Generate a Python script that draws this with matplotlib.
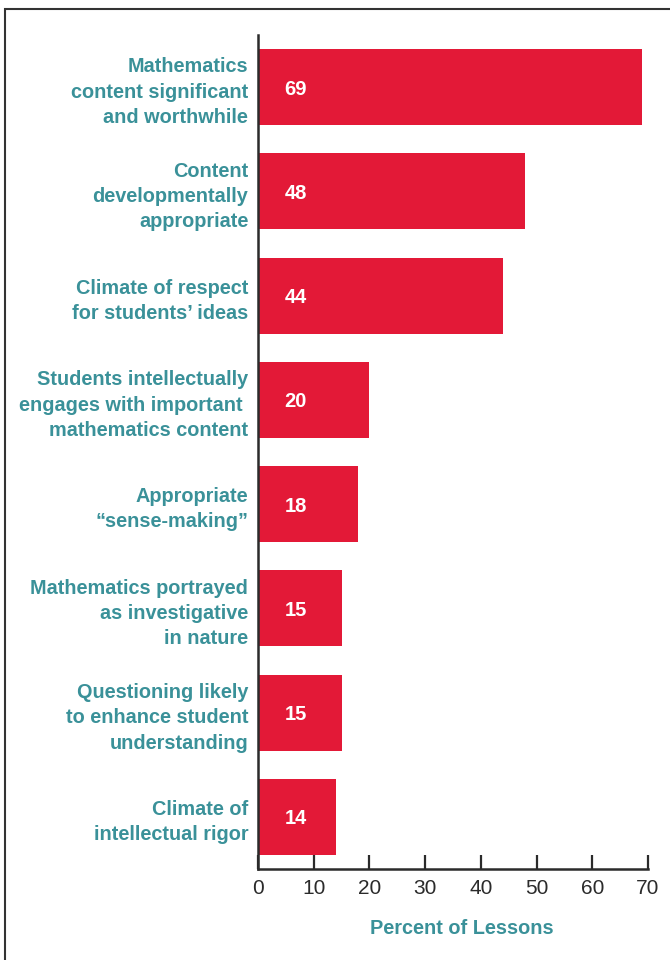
import matplotlib
matplotlib.use("Agg")
import matplotlib.pyplot as plt
from matplotlib.patches import Rectangle

categories = [
    "Mathematics\ncontent significant\nand worthwhile",
    "Content\ndevelopmentally\nappropriate",
    "Climate of respect\nfor students\u2019 ideas",
    "Students intellectually\nengages with important \nmathematics content",
    "Appropriate\n\u201csense-making\u201d",
    "Mathematics portrayed\nas investigative\nin nature",
    "Questioning likely\nto enhance student\nunderstanding",
    "Climate of\nintellectual rigor",
]
values = [69, 48, 44, 20, 18, 15, 15, 14]
xticks = [0, 10, 20, 30, 40, 50, 60, 70]
xlabel = "Percent of Lessons"

RED = "#E31937"
TEAL = "#3A9199"
DARK = "#2b2b2b"
FONT = ["Liberation Sans", "DejaVu Sans"]

fig = plt.figure(figsize=(6.7, 9.6), dpi=100)
fig.patches.append(Rectangle((5/670, -0.1), 1.2, 1 - 8.5/960 + 0.1,
                             transform=fig.transFigure, fill=False,
                             edgecolor="#333333", linewidth=1.5))

ax = fig.add_axes([258/670, 1 - 869/960, 390/670, 834/960])
pos = list(range(len(values)))
ax.barh(pos, values, height=0.73, color=RED)
ax.set_ylim(7.5, -0.5)
ax.set_xlim(0, 70)

for p, v in zip(pos, values):
    ax.annotate(str(v), (0, p), xytext=(19, -1.5), textcoords="offset points",
                ha="left", va="center", color="white", fontsize=14.5,
                fontweight="bold", family=FONT)

ax.set_yticks(pos)
ax.set_yticklabels(categories, fontsize=14.3, fontweight="bold", color=TEAL,
                   family=FONT, linespacing=1.42, ha="right")
ax.tick_params(axis="y", length=0, pad=7)

ax.set_xticks(xticks)
ax.set_xticklabels([str(t) for t in xticks], fontsize=15, color=DARK,
                   family=FONT)
ax.tick_params(axis="x", direction="in", length=10, width=1.6, color=DARK,
               pad=7)
ax.set_xlabel(xlabel, fontsize=14.3, fontweight="bold", color=TEAL,
              family=FONT)
ax.xaxis.label.set_va("center")
ax.xaxis.set_label_coords((462 - 258) / 390, -(928 - 869) / 834)

for s in ["top", "right"]:
    ax.spines[s].set_visible(False)
for s in ["left", "bottom"]:
    ax.spines[s].set_linewidth(1.8)
    ax.spines[s].set_color(DARK)

fig.savefig("out.png", dpi=100)
